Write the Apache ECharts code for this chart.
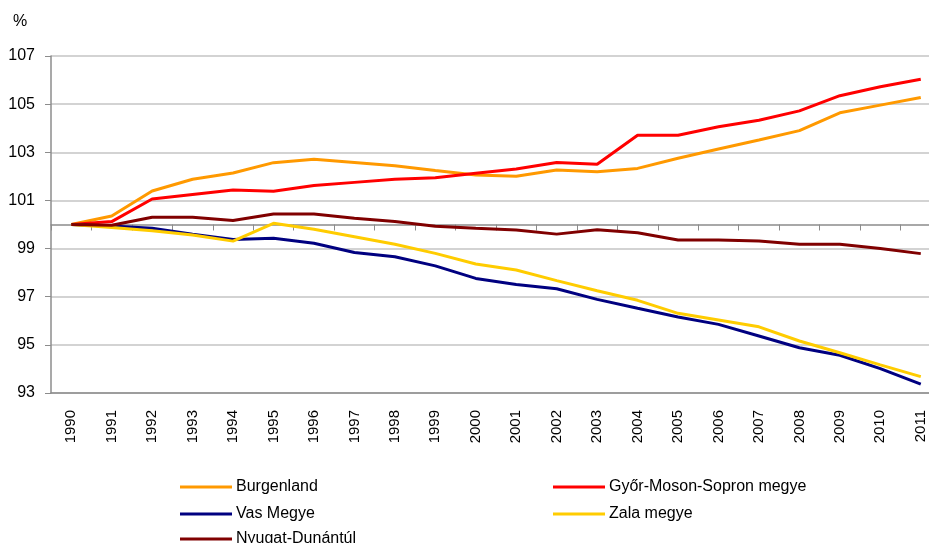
<!DOCTYPE html>
<html>
<head>
<meta charset="utf-8">
<script src="https://cdn.jsdelivr.net/npm/echarts@6/dist/echarts.min.js"></script>
<style>
    html, body { margin: 0; padding: 0; background: #fff; }
    #chart { width: 929px; height: 543px; }
</style>
</head>
<body>
<div id="chart"></div>
<script>
    var years = ['1990', '1991', '1992', '1993', '1994', '1995', '1996', '1997', '1998', '1999', '2000',
        '2001', '2002', '2003', '2004', '2005', '2006', '2007', '2008', '2009', '2010', '2011'];
    var burgenland = [100, 100.35, 101.39, 101.88, 102.14, 102.57, 102.71, 102.58, 102.44, 102.24, 102.06,
        102.0, 102.26, 102.19, 102.33, 102.75, 103.14, 103.51, 103.90, 104.64, 104.96, 105.28];
    var gyor = [100, 100.12, 101.06, 101.25, 101.43, 101.38, 101.62, 101.75, 101.88, 101.94, 102.13,
        102.31, 102.58, 102.50, 103.71, 103.71, 104.06, 104.33, 104.72, 105.35, 105.72, 106.03];
    var vas = [100, 99.94, 99.84, 99.60, 99.38, 99.43, 99.22, 98.84, 98.66, 98.28, 97.76,
        97.51, 97.33, 96.89, 96.52, 96.16, 95.85, 95.37, 94.88, 94.57, 94.01, 93.37];
    var zala = [100, 99.88, 99.74, 99.56, 99.31, 100.05, 99.80, 99.49, 99.18, 98.80, 98.36,
        98.11, 97.67, 97.25, 96.85, 96.31, 96.03, 95.75, 95.16, 94.67, 94.17, 93.68];
    var nyugat = [100, 99.97, 100.30, 100.30, 100.17, 100.44, 100.44, 100.26, 100.12, 99.93, 99.84,
        99.77, 99.60, 99.78, 99.66, 99.36, 99.36, 99.31, 99.18, 99.18, 99.00, 98.79];

    var font = 'Liberation Sans, Arial, sans-serif';

    function line(name, data, color) {
        return {
            name: name,
            type: 'line',
            data: data,
            showSymbol: false,
            symbol: 'none',
            lineStyle: { color: color, width: 3 },
            itemStyle: { color: color },
            animation: false
        };
    }

    // one legend per entry, laid out in two columns like the original
    function legendItem(name, left, top) {
        return {
            left: left, top: top,
            icon: 'rect', itemWidth: 52, itemHeight: 3, itemGap: 0,
            textStyle: { fontFamily: font, fontSize: 16, color: '#000', padding: [0, 0, 0, -1] },
            data: [name]
        };
    }

    var chart = echarts.init(document.getElementById('chart'));
    chart.setOption({
        backgroundColor: '#fff',
        graphic: [{
            type: 'text', left: 13, top: 14,
            style: { text: '%', font: '16px ' + font, fill: '#000' }
        }],
        legend: [
            legendItem('Burgenland', 175, 474),
            legendItem('Vas Megye', 175, 501),
            legendItem('Nyugat-Dunántúl', 175, 526),
            legendItem('Győr-Moson-Sopron megye', 548, 474),
            legendItem('Zala megye', 548, 501)
        ],
        grid: { left: 51, top: 56, width: 890, height: 337, outerBoundsMode: 'none', containLabel: false },
        xAxis: [{
            type: 'category',
            data: years,
            position: 'bottom',
            axisLine: { lineStyle: { color: '#8c8c8c', width: 1.5 } },
            axisTick: { show: false },
            axisLabel: { rotate: 90, margin: 17, fontFamily: font, fontSize: 15, color: '#000', interval: 0 }
        }, {
            type: 'category',
            data: years,
            position: 'bottom',
            offset: -168.5,
            axisLine: { lineStyle: { color: '#8c8c8c', width: 1.5 } },
            axisTick: { show: true, length: 6, lineStyle: { color: '#8c8c8c' } },
            axisLabel: { show: false }
        }],
        yAxis: {
            type: 'value',
            min: 93,
            max: 107,
            interval: 2,
            axisLine: { show: true, lineStyle: { color: '#8c8c8c', width: 1.5 } },
            axisTick: { show: true, length: 6, lineStyle: { color: '#8c8c8c' } },
            splitLine: { lineStyle: { color: '#c4c4c4', width: 1.5 } },
            axisLabel: { margin: 16, fontFamily: font, fontSize: 16, color: '#000' }
        },
        series: [
            line('Burgenland', burgenland, '#ff9900'),
            line('Győr-Moson-Sopron megye', gyor, '#ff0000'),
            line('Vas Megye', vas, '#000080'),
            line('Zala megye', zala, '#ffcc00'),
            line('Nyugat-Dunántúl', nyugat, '#800000')
        ]
    });
</script>
</body>
</html>
